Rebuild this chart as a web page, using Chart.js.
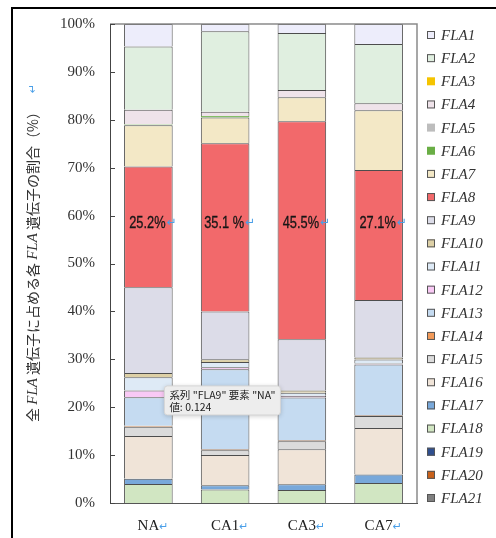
<!DOCTYPE html>
<html>
<head>
<meta charset="utf-8">
<script src="https://cdn.jsdelivr.net/npm/chart.js@4/dist/chart.umd.min.js"></script>
<style>
  html, body { margin: 0; padding: 0; background: #ffffff; }
  #wrap { position: relative; width: 496px; height: 538px; }
  canvas { display: block; }
</style>
</head>
<body>
<div id="wrap"><canvas id="c" width="496" height="538"></canvas></div>
<script>
// Categories on the x axis
const categories = ['NA', 'CA1', 'CA3', 'CA7'];

// Series names, listed top of stack first
const seriesNames = ['FLA1', 'FLA2', 'FLA3', 'FLA4', 'FLA5', 'FLA6', 'FLA7',
  'FLA8', 'FLA9', 'FLA10', 'FLA11', 'FLA12', 'FLA13', 'FLA14',
  'FLA15', 'FLA16', 'FLA17', 'FLA18', 'FLA19', 'FLA20', 'FLA21'];

// Raw values per series: [NA, CA1, CA3, CA7]
const FLA1  = [0.0326, 0.0150, 0.0190, 0.0415];
const FLA2  = [0.0914, 0.1680, 0.1190, 0.1240];
const FLA3  = [0, 0, 0, 0];
const FLA4  = [0.0215, 0.0090, 0.0150, 0.0145];
const FLA5  = [0, 0, 0, 0];
const FLA6  = [0.0010, 0.0030, 0, 0];
const FLA7  = [0.0596, 0.0540, 0.0500, 0.1250];
const FLA8  = [0.1746, 0.3510, 0.4550, 0.2710];
const FLA9  = [0.1240, 0.1000, 0.1070, 0.1200];
const FLA10 = [0.0062, 0.0055, 0.0050, 0.0045];
const FLA11 = [0.0191, 0.0110, 0.0060, 0.0085];
const FLA12 = [0.0100, 0.0045, 0.0040, 0.0020];
const FLA13 = [0.0412, 0.1670, 0.0890, 0.1060];
const FLA14 = [0.0014, 0.0020, 0.0020, 0.0015];
const FLA15 = [0.0132, 0.0100, 0.0170, 0.0250];
const FLA16 = [0.0620, 0.0630, 0.0730, 0.0970];
const FLA17 = [0.0076, 0.0090, 0.0120, 0.0175];
const FLA18 = [0.0274, 0.0280, 0.0270, 0.0420];
const FLA19 = [0, 0, 0, 0];
const FLA20 = [0, 0, 0, 0];
const FLA21 = [0, 0, 0, 0];

const seriesValues = [FLA1, FLA2, FLA3, FLA4, FLA5, FLA6, FLA7, FLA8, FLA9, FLA10,
  FLA11, FLA12, FLA13, FLA14, FLA15, FLA16, FLA17, FLA18, FLA19, FLA20, FLA21];

// Percent axis ticks
const yTickValues = [0, 10, 20, 30, 40, 50, 60, 70, 80, 90, 100];

// Suffix typed after each share label on FLA8
const shareLabelSuffix = ['%', ' %', '%', '%'];

// Series fill colours
const seriesColors = ['#EDEDFB', '#E0EFE0', '#F5C400', '#EFE3EA', '#BDBDBD', '#6AAE45', '#F3E8C6',
  '#F2696B', '#DCDCE8', '#DDD0A6', '#DEEAF6', '#F9C9F5', '#C5DBF1', '#F29A59',
  '#DBDBDB', '#F0E4D8', '#78A8DA', '#D1E6C2', '#2F4F8F', '#C9611B', '#7F7F7F'];
const outline = '#4d4d4d';
const seriesBorders = seriesColors.map((c, k) => (k === 2 || k === 4 || k === 5) ? c : outline);

// Shares within each category (100% stacked)
const totals = categories.map((_, i) => seriesValues.reduce((s, arr) => s + arr[i], 0));
const shares = seriesValues.map(arr => arr.map((v, i) => v / totals[i] * 100));

const RETURN_MARK = '\u21B5';
const MARK_COLOR = '#4a9fe8';

// Bottom of stack is FLA21, so datasets are added in reverse order
const datasets = [];
for (let k = seriesNames.length - 1; k >= 0; k--) {
  datasets.push({
    label: seriesNames[k],
    data: shares[k],
    raw: seriesValues[k],
    backgroundColor: seriesColors[k],
    borderColor: seriesBorders[k],
    borderWidth: 1,
    categoryPercentage: 1.0,
    barPercentage: 0.633
  });
}

const decorPlugin = {
  id: 'decor',
  beforeDraw(chart) {
    const ctx = chart.ctx;
    ctx.save();
    ctx.fillStyle = '#ffffff';
    ctx.fillRect(0, 0, chart.width, chart.height);
    // page frame
    ctx.fillStyle = '#000000';
    ctx.fillRect(11, 7, 2, chart.height - 7);
    ctx.fillRect(11, 7, chart.width - 11, 2);
    ctx.restore();
  },
  afterDatasetsDraw(chart) {
    const ctx = chart.ctx;
    const a = chart.chartArea;
    const y = chart.scales.y;
    const x = chart.scales.x;
    ctx.save();
    // plot area top and right edges
    ctx.strokeStyle = '#8a8a8a';
    ctx.lineWidth = 1.5;
    ctx.beginPath();
    ctx.moveTo(a.left, a.top);
    ctx.lineTo(a.right, a.top);
    ctx.lineTo(a.right, a.bottom);
    ctx.stroke();
    // inward tick marks on the value axis
    ctx.strokeStyle = '#444';
    ctx.lineWidth = 1;
    yTickValues.forEach(v => {
      const py = Math.round(y.getPixelForValue(v)) + 0.5;
      ctx.beginPath();
      ctx.moveTo(a.left, py);
      ctx.lineTo(a.left + 5, py);
      ctx.stroke();
    });

    // share labels on FLA8 (narrow sans)
    const idx8 = chart.data.datasets.findIndex(d => d.label === 'FLA8');
    const meta8 = chart.getDatasetMeta(idx8);
    const labelY = y.getPixelForValue(58.4);
    const narrow = 0.8;
    ctx.textBaseline = 'middle';
    meta8.data.forEach((el, i) => {
      const txt = chart.data.datasets[idx8].data[i].toFixed(1) + shareLabelSuffix[i];
      ctx.font = '16px "Liberation Sans", Arial, sans-serif';
      const w = ctx.measureText(txt).width * narrow;
      const cx = el.x - 1;
      ctx.save();
      ctx.translate(cx, labelY);
      ctx.scale(narrow, 1);
      ctx.fillStyle = '#161616';
      ctx.strokeStyle = '#161616';
      ctx.lineWidth = 0.3;
      ctx.textAlign = 'center';
      ctx.fillText(txt, 0, 0);
      ctx.strokeText(txt, 0, 0);
      ctx.restore();
      ctx.font = '12px "DejaVu Sans", sans-serif';
      ctx.fillStyle = MARK_COLOR;
      ctx.textAlign = 'left';
      ctx.fillText(RETURN_MARK, cx + w / 2 + 1, labelY);
    });

    // category labels
    categories.forEach((c, i) => {
      const px = x.getPixelForValue(i);
      ctx.font = '15px "Liberation Serif", serif';
      ctx.fillStyle = '#222';
      ctx.textAlign = 'center';
      const w = ctx.measureText(c).width;
      ctx.fillText(c, px, a.bottom + 23);
      ctx.font = '11px "DejaVu Sans", sans-serif';
      ctx.fillStyle = MARK_COLOR;
      ctx.textAlign = 'left';
      ctx.fillText(RETURN_MARK, px + w / 2, a.bottom + 24);
    });

    // value axis title, rotated
    const runs = [
      { t: '全 ', f: '14px "Noto Sans CJK JP", sans-serif' },
      { t: 'FLA', f: 'italic 15px "Liberation Serif", serif' },
      { t: ' 遺伝子に占める各 ', f: '14px "Noto Sans CJK JP", sans-serif' },
      { t: 'FLA', f: 'italic 15px "Liberation Serif", serif' },
      { t: ' 遺伝子の割合（%）', f: '14px "Noto Sans CJK JP", sans-serif' }
    ];
    let total = 0;
    runs.forEach(r => { ctx.font = r.f; r.w = ctx.measureText(r.t).width; total += r.w; });
    ctx.translate(33, (a.top + a.bottom) / 2);
    ctx.rotate(-Math.PI / 2);
    ctx.textAlign = 'left';
    ctx.fillStyle = '#333';
    let tx = -total / 2;
    runs.forEach(r => { ctx.font = r.f; ctx.fillText(r.t, tx, 0); tx += r.w; });
    ctx.font = '11px "DejaVu Sans", sans-serif';
    ctx.fillStyle = MARK_COLOR;
    ctx.fillText(RETURN_MARK, tx + 12, 0);
    ctx.restore();
  },
  afterDraw(chart) {
    const ctx = chart.ctx;
    const a = chart.chartArea;
    ctx.save();
    // legend, FLA1 at the top
    const n = seriesNames.length;
    const step = (498 - 35) / (n - 1);
    ctx.textBaseline = 'middle';
    seriesNames.forEach((name, k) => {
      const cy = 35 + k * step;
      const bx = a.right + 10;
      ctx.fillStyle = seriesColors[k];
      ctx.fillRect(bx, cy - 4, 8, 8);
      if (seriesBorders[k] !== seriesColors[k]) {
        ctx.strokeStyle = '#555';
        ctx.lineWidth = 1;
        ctx.strokeRect(bx + 0.5, cy - 3.5, 7, 7);
      }
      ctx.font = 'italic 15px "Liberation Serif", serif';
      ctx.fillStyle = '#333';
      ctx.textAlign = 'left';
      ctx.fillText(name, bx + 14, cy + 1);
    });

    // hover box on FLA9 / NA
    const idx9 = chart.data.datasets.findIndex(d => d.label === 'FLA9');
    const ds9 = chart.data.datasets[idx9];
    const el = chart.getDatasetMeta(idx9).data[0];
    const line1 = '系列 "' + ds9.label + '" 要素 "' + categories[0] + '"';
    const line2 = '値: ' + ds9.raw[0];
    ctx.font = '10.5px "Noto Sans CJK JP", sans-serif';
    const tw = Math.max(ctx.measureText(line1).width, ctx.measureText(line2).width);
    const bx = el.x + 16;
    const by = el.base + 13;
    const bw = tw + 10;
    const bh = 29;
    ctx.shadowColor = 'rgba(0,0,0,0.22)';
    ctx.shadowBlur = 5;
    ctx.shadowOffsetY = 1;
    ctx.fillStyle = '#ededed';
    ctx.beginPath();
    ctx.roundRect(bx, by, bw, bh, 3);
    ctx.fill();
    ctx.shadowColor = 'transparent';
    ctx.strokeStyle = '#d6d6d6';
    ctx.lineWidth = 1;
    ctx.stroke();
    ctx.fillStyle = '#222';
    ctx.textAlign = 'left';
    ctx.fillText(line1, bx + 5, by + 9);
    ctx.fillText(line2, bx + 5, by + 21.5);
    ctx.restore();
  }
};

new Chart(document.getElementById('c'), {
  type: 'bar',
  data: { labels: categories, datasets: datasets },
  options: {
    responsive: false,
    devicePixelRatio: 1,
    animation: false,
    layout: { padding: { left: 0, right: 79, top: 22, bottom: 35 } },
    plugins: {
      legend: { display: false },
      tooltip: { enabled: false }
    },
    scales: {
      x: {
        stacked: true,
        grid: { display: false, drawTicks: false },
        ticks: { display: false },
        border: { display: true, color: '#555', width: 1 },
        afterFit(scale) { scale.height = 0; }
      },
      y: {
        stacked: true,
        min: 0,
        max: 100,
        afterBuildTicks(scale) { scale.ticks = yTickValues.map(v => ({ value: v })); },
        grid: { display: false, drawTicks: false },
        border: { display: true, color: '#444', width: 1 },
        ticks: {
          padding: 15,
          color: '#333',
          font: { family: '"Liberation Serif", serif', size: 15 },
          callback: v => v + '%'
        },
        afterFit(scale) { scale.width = 110; }
      }
    }
  },
  plugins: [decorPlugin]
});
</script>
</body>
</html>
